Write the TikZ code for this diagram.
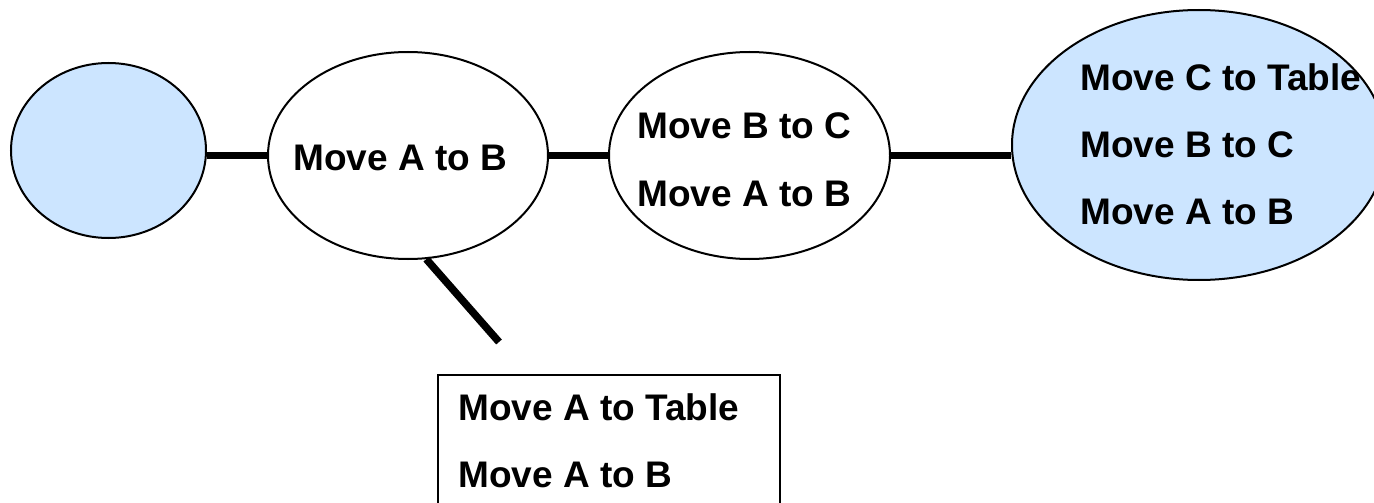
\documentclass[tikz,border=0pt]{standalone}
\usepackage{fontspec}
\setmainfont{Liberation Sans}
\usetikzlibrary{shapes.geometric}
\definecolor{stateblue}{RGB}{204,229,255}
\tikzset{
  state/.style={ellipse, draw=black, line width=2pt, inner sep=0pt},
  goalstate/.style={state, fill=stateblue},
  link/.style={line width=7.5pt, line cap=butt},
  lbl/.style={anchor=base west, inner sep=0pt, font=\fontsize{37}{37}\selectfont\bfseries},
  planbox/.style={draw=black, line width=2pt, inner sep=0pt, anchor=north west}
}
\begin{document}
\begin{tikzpicture}[x=1pt, y=-1pt]
  \useasboundingbox (0,0) rectangle (1374,503);
  \clip (0,0) rectangle (1374,503);
  \fill[white] (0,0) rectangle (1374,503);

  % states of the search
  \node[goalstate, minimum width=195pt, minimum height=175pt] (s0) at (108.5,150.5) {};
  \node[state, minimum width=280pt, minimum height=207pt] (s1) at (408,155.5) {};
  \node[state, minimum width=281pt, minimum height=207pt] (s2) at (749.5,155.5) {};
  \node[goalstate, minimum width=374pt, minimum height=270pt] (s3) at (1199,145) {};

  % plan box below
  \node[planbox, minimum width=342pt, minimum height=170pt] (p) at (437,374) {};

  % connectors
  \draw[link] (s1.west) -- (s0.east |- s1.west);
  \draw[link] (s1.east) -- (s2.west);
  \draw[link] (s2.east) -- (s3.west |- s2.east);
  \coordinate (pend) at (499,342);
  \draw[link] (s1.-80.6) -- (pend);

  % labels
  \node[lbl] (t1) at (293,170) {Move A to B};
  \node[lbl] (t2a) at (637,139) {Move B to C};
  \node[lbl] (t2b) at (637,206) {Move A to B};
  \node[lbl] (t3a) at (1080,90) {Move C to Table};
  \node[lbl] (t3b) at (1080,157) {Move B to C};
  \node[lbl] (t3c) at (1080,224) {Move A to B};
  \node[lbl] (pa) at (458,420) {Move A to Table};
  \node[lbl] (pb) at (458,487) {Move A to B};
\end{tikzpicture}
\end{document}
